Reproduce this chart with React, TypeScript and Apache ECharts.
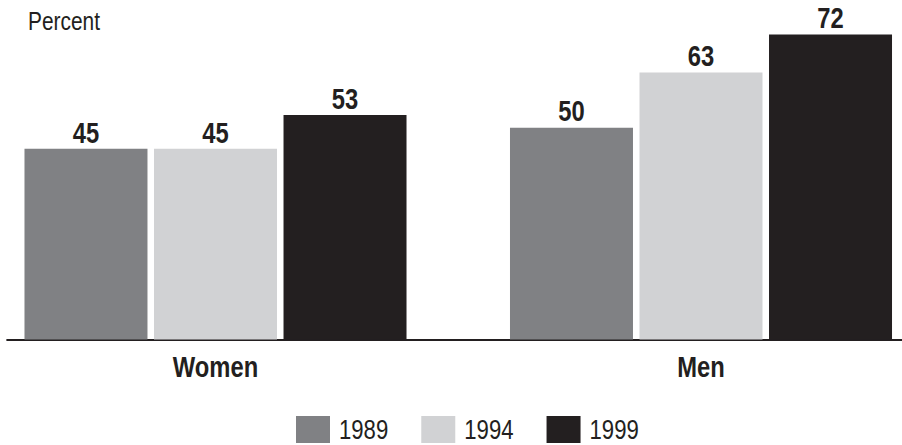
import React, { useEffect, useRef } from "react";
import * as echarts from "echarts";

// Share of respondents, by sex and survey year
const groups = ["Women", "Men"];
const years = ["1989", "1994", "1999"];
const values1989 = [45, 50];
const values1994 = [45, 63];
const values1999 = [53, 72];
const yearColors = ["#808184", "#d1d2d4", "#231f20"];

// The chart is laid out on a wider canvas and squeezed horizontally,
// which gives the condensed lettering of the original typesetting.
const SQUEEZE = 0.82;
const VIEW_W = 902;
const VIEW_H = 445;
const CANVAS_W = VIEW_W / SQUEEZE;
const sx = (px: number) => px / SQUEEZE;

const FONT = "'Liberation Sans', Arial, Helvetica, sans-serif";
const INK = "#231f20";

export default function App() {
  const ref = useRef<HTMLDivElement>(null);

  useEffect(() => {
    if (!ref.current) return;
    const chart = echarts.init(ref.current, undefined, { renderer: "svg" });
    const seriesValues = [values1989, values1994, values1999];

    chart.setOption({
      animation: false,
      backgroundColor: "#ffffff",
      textStyle: { fontFamily: FONT },
      grid: [
        // category points sit on the grid edges (boundaryGap: false)
        { left: sx(215.5), right: CANVAS_W - sx(701), top: 0.5, bottom: 105.5 },
        // full-width baseline
        { left: sx(7), right: 0, top: 0.5, bottom: 105 },
      ],
      xAxis: [
        {
          type: "category",
          gridIndex: 0,
          data: groups,
          boundaryGap: false,
          axisLine: { show: false },
          axisTick: { show: false },
          splitLine: { show: false },
          axisLabel: {
            margin: 13,
            fontFamily: FONT,
            fontSize: 29,
            fontWeight: "bold",
            color: INK,
          },
        },
        {
          type: "category",
          gridIndex: 1,
          data: [""],
          axisLine: { show: true, lineStyle: { color: INK, width: 2 } },
          axisTick: { show: false },
          axisLabel: { show: false },
          splitLine: { show: false },
        },
      ],
      yAxis: [
        { type: "value", gridIndex: 0, min: 0, max: 80, show: false },
        { type: "value", gridIndex: 1, min: 0, max: 80, show: false },
      ],
      legend: {
        left: sx(296),
        top: 416,
        padding: 0,
        itemWidth: sx(34),
        itemHeight: 27,
        itemGap: sx(33),
        icon: "rect",
        data: years,
        textStyle: {
          fontFamily: FONT,
          fontSize: 27,
          color: INK,
          padding: [0, 0, 2, 6],
        },
      },
      series: years.map((y, i) => ({
        name: y,
        type: "bar",
        xAxisIndex: 0,
        yAxisIndex: 0,
        clip: false,
        data: seriesValues[i],
        barWidth: sx(123),
        barGap: "5.3%",
        itemStyle: { color: yearColors[i] },
        label: {
          show: true,
          position: "top",
          distance: 1.5,
          fontFamily: FONT,
          fontSize: 29,
          fontWeight: "bold",
          color: INK,
        },
      })),
      graphic: [
        {
          type: "text",
          left: sx(28),
          top: 8,
          style: {
            text: "Percent",
            fontFamily: FONT,
            fontSize: 25.5,
            fill: INK,
          },
        },
      ],
    });

    return () => chart.dispose();
  }, []);

  return (
    <div
      style={{
        position: "fixed",
        left: 0,
        top: 0,
        width: VIEW_W,
        height: VIEW_H,
        overflow: "hidden",
        background: "#fff",
      }}
    >
      <div
        ref={ref}
        style={{
          width: CANVAS_W,
          height: VIEW_H,
          transform: `scaleX(${SQUEEZE})`,
          transformOrigin: "0 0",
        }}
      />
    </div>
  );
}
